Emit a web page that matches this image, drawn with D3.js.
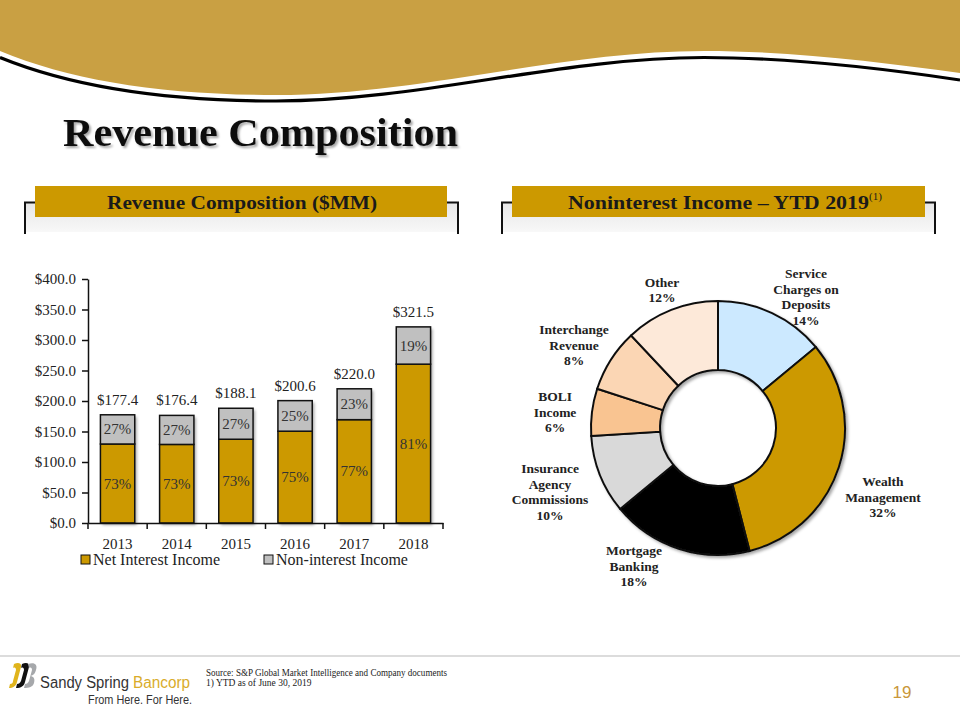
<!DOCTYPE html>
<html><head><meta charset="utf-8">
<script src="https://cdn.jsdelivr.net/npm/d3@7"></script>
<style>
body{margin:0;background:#fff;}
svg{display:block;font-family:"Liberation Serif","Times New Roman",serif;}
</style></head><body>
<svg id="c" width="960" height="720"></svg>
<script>
// ---------- DATA ----------
const years = ["2013","2014","2015","2016","2017","2018"];
const totalRevenue = [177.4, 176.4, 188.1, 200.6, 220.0, 321.5];
const netInterest = [129.5, 128.8, 137.3, 150.5, 169.4, 260.4];
const nonInterest = [47.9, 47.6, 50.8, 50.1, 50.6, 61.1];
const netPctLabels = ["73%","73%","73%","75%","77%","81%"];
const nonPctLabels = ["27%","27%","27%","25%","23%","19%"];
const yTicks = [0, 50, 100, 150, 200, 250, 300, 350, 400];
const seriesNames = ["Net Interest Income", "Non-interest Income"];

const donutCats = [["Service","Charges on","Deposits"],["Wealth","Management"],["Mortgage","Banking"],["Insurance","Agency","Commissions"],["BOLI","Income"],["Interchange","Revenue"],["Other"]];
const donutShares = [14, 32, 18, 10, 6, 8, 12];
const donutColors = ["#CCE9FF","#CC9900","#000000","#D9D9D9","#F9C491","#FBD6B4","#FDE9D9"];
// label block centres relative to donut centre (layout only)
const donutLabelOffsets = [[88,-131],[165,69],[-84,138],[-168,64],[-163,-16],[-144,-83],[-56,-138]];

const gold = "#CC9900", grey = "#C0C0C0", headerGold = "#C9A043";

const svg = d3.select("#c");
const defs = svg.append("defs");
const sh = defs.append("filter").attr("id","sh").attr("x","-20%").attr("y","-20%").attr("width","150%").attr("height","150%");
sh.append("feDropShadow").attr("dx",2).attr("dy",2).attr("stdDeviation",1.6).attr("flood-color","#000").attr("flood-opacity",0.35);
const tsh = defs.append("filter").attr("id","tsh").attr("x","-5%").attr("y","-20%").attr("width","110%").attr("height","150%");
tsh.append("feDropShadow").attr("dx",2).attr("dy",2).attr("stdDeviation",1).attr("flood-color","#000").attr("flood-opacity",0.35);
const grad = defs.append("linearGradient").attr("id","hg").attr("x1",0).attr("y1",0).attr("x2",0).attr("y2",1);
grad.append("stop").attr("offset","0%").attr("stop-color","#e6e6e6");
grad.append("stop").attr("offset","100%").attr("stop-color","#f8f8f8");

// ---------- HEADER WAVE ----------
svg.append("path")
  .attr("d","M0,57.5 C70,86 160,101 276,101 C420,101 560,57.5 704,57.5 C790,57.5 880,68 960,80")
  .attr("fill","none").attr("stroke","#000").attr("stroke-width",3.2);
svg.append("path")
  .attr("d","M0,0 H960 V73 C880,62 790,51 704,51 C560,51 420,95 276,95 C160,95 70,80 0,51 Z")
  .attr("fill",headerGold);

// ---------- TITLE ----------
svg.append("text").attr("x",63).attr("y",146).attr("font-size",40).attr("font-weight","bold")
  .attr("textLength",395).attr("lengthAdjust","spacingAndGlyphs")
  .attr("fill","#111").attr("filter","url(#tsh)").text("Revenue Composition");

// ---------- SECTION HEADERS ----------
function sectionHeader(x0, x1, bx0, bx1, label, textX, textLen, anchor){
  svg.append("rect").attr("x",x0).attr("y",202).attr("width",x1-x0).attr("height",30).attr("fill","url(#hg)");
  svg.append("path").attr("d",`M${x0},234 V202.5 H${bx0+2} M${bx1-2},202.5 H${x1} V234`)
    .attr("fill","none").attr("stroke","#111").attr("stroke-width",2);
  svg.append("rect").attr("x",bx0).attr("y",186).attr("width",bx1-bx0).attr("height",31).attr("fill",gold);
  return svg.append("text").attr("x",textX).attr("y",209).attr("font-size",19).attr("font-weight","bold")
    .attr("fill","#1a1a1a").attr("text-anchor",anchor).attr("textLength",textLen).attr("lengthAdjust","spacingAndGlyphs").text(label);
}
sectionHeader(25, 458, 35, 447, "Revenue Composition ($MM)", 242, 270, "middle");
sectionHeader(502, 935, 512, 925, "Noninterest Income \u2013  YTD 2019", 568, 301, "start");
svg.append("text").attr("x",869).attr("y",200).attr("font-size",11).attr("fill","#1a1a1a").text("(1)");

// ---------- BAR CHART ----------
const x = d3.scaleBand().domain(years).range([88,443]).paddingInner(0.42).paddingOuter(0.21);
const y = d3.scaleLinear().domain([0,400]).range([523,279]);
const bars = svg.append("g");
const rows = years.map((yr,i)=>({yr, net:netInterest[i], non:nonInterest[i], tot:totalRevenue[i], np:netPctLabels[i], op:nonPctLabels[i]}));

const bg = bars.selectAll("g.bar").data(rows).join("g").attr("class","bar");
bg.append("rect").attr("x",d=>x(d.yr)).attr("width",x.bandwidth())
  .attr("y",d=>y(d.net+d.non)).attr("height",d=>y(0)-y(d.net+d.non))
  .attr("fill","#fff").attr("filter","url(#sh)");
bg.append("rect").attr("x",d=>x(d.yr)).attr("width",x.bandwidth())
  .attr("y",d=>y(d.net)).attr("height",d=>y(0)-y(d.net))
  .attr("fill",gold).attr("stroke","#111").attr("stroke-width",1.5);
bg.append("rect").attr("x",d=>x(d.yr)).attr("width",x.bandwidth())
  .attr("y",d=>y(d.net+d.non)).attr("height",d=>y(d.net)-y(d.net+d.non))
  .attr("fill",grey).attr("stroke","#111").attr("stroke-width",1.5);
bg.append("text").attr("x",d=>x(d.yr)+x.bandwidth()/2).attr("y",d=>y(d.net/2)+5)
  .attr("text-anchor","middle").attr("font-size",15).attr("fill","#333").text(d=>d.np);
bg.append("text").attr("x",d=>x(d.yr)+x.bandwidth()/2).attr("y",d=>y(d.net+d.non/2)+5)
  .attr("text-anchor","middle").attr("font-size",15).attr("fill","#333").text(d=>d.op);
bg.append("text").attr("x",d=>x(d.yr)+x.bandwidth()/2).attr("y",d=>y(d.tot)-10)
  .attr("text-anchor","middle").attr("font-size",15).attr("fill","#222").text(d=>"$"+d.tot.toFixed(1));

// Y axis
const yAx = svg.append("g").attr("transform","translate(88,0)")
  .call(d3.axisLeft(y).tickValues(yTicks).tickSize(6).tickSizeOuter(0).tickPadding(6).tickFormat(d=>"$"+d.toFixed(1)));
yAx.selectAll("text").attr("font-size",15).attr("fill","#222").attr("font-family","Liberation Serif, serif");
yAx.selectAll("line,path").attr("stroke","#111").attr("stroke-width",1.5);
// X axis
const xAx = svg.append("g").attr("transform","translate(0,523)")
  .call(d3.axisBottom(x).tickSize(0).tickSizeOuter(0).tickPadding(15));
xAx.selectAll("text").attr("font-size",15).attr("fill","#222").attr("font-family","Liberation Serif, serif");
xAx.select("path").attr("stroke","#111").attr("stroke-width",1.5);
const step = x.step();
xAx.selectAll("line.bnd").data(d3.range(years.length+1)).join("line").attr("class","bnd")
  .attr("x1",i=>x.range()[0]+i*step).attr("x2",i=>x.range()[0]+i*step)
  .attr("y1",0).attr("y2",6).attr("stroke","#111").attr("stroke-width",1.5);

// Legend
const leg = svg.append("g");
const legX = [81, 264], legCol = [gold, grey];
seriesNames.forEach((n,i)=>{
  leg.append("rect").attr("x",legX[i]).attr("y",555).attr("width",9).attr("height",9)
    .attr("fill",legCol[i]).attr("stroke","#111").attr("stroke-width",1);
  leg.append("text").attr("x",legX[i]+12).attr("y",564.5).attr("font-size",16).attr("fill","#222").text(n);
});

// ---------- DONUT ----------
const cx = 718, cy = 428;
const pie = d3.pie().sort(null).value(d=>d)(donutShares);
const arc = d3.arc().innerRadius(58).outerRadius(127);
const dg = svg.append("g").attr("transform",`translate(${cx},${cy})`);
dg.append("g").attr("filter","url(#sh)").selectAll("path").data(pie).join("path")
  .attr("d",arc).attr("fill",(d,i)=>donutColors[i]).attr("stroke","#111").attr("stroke-width",2);
donutCats.forEach((lines,i)=>{
  const all = lines.concat([donutShares[i]+"%"]);
  const lh = 15.5;
  const [ox,oy] = donutLabelOffsets[i];
  const t = dg.append("text").attr("text-anchor","middle").attr("font-size",13.5).attr("font-weight","bold").attr("fill","#222");
  all.forEach((s,j)=>{
    t.append("tspan").attr("x",ox).attr("y",oy - (all.length-1)*lh/2 + j*lh + 4.5).text(s);
  });
});

// ---------- FOOTER ----------
svg.append("line").attr("x1",0).attr("x2",960).attr("y1",656).attr("y2",656).attr("stroke","#d0d0d0").attr("stroke-width",1.5);
const logo = svg.append("g");
logo.append("path").attr("d","M14,664 C18,662 22,663 21,667 L17,682 C16,686 13,688 9,688 L10,684 C12,684 13,683 13,681 L16,670 C16,668 15,667 13,668 Z").attr("fill","#E0B41C");
logo.append("path").attr("d","M22,664 C26,662 30,663 29,667 L25,682 C24,686 21,688 16,688 L17,684 C19,684 20,683 21,681 L24,670 C24,668 23,667 21,668 Z").attr("fill","#111");
logo.append("path").attr("d","M28,664 C34,662 38,664 36,670 C35,674 33,675 31,676 C34,677 35,679 34,683 C33,687 29,688 24,688 L25,684 C27,684 28,683 29,681 L32,670 C32,668 31,667 29,668 Z").attr("fill","#A6A8AB");
svg.append("text").attr("x",40).attr("y",688).attr("font-family","Liberation Sans, Arial, sans-serif").attr("font-size",16)
  .attr("fill","#333").attr("textLength",89).attr("lengthAdjust","spacingAndGlyphs").text("Sandy Spring");
svg.append("text").attr("x",133).attr("y",688).attr("font-family","Liberation Sans, Arial, sans-serif").attr("font-size",16)
  .attr("fill","#D9AC2A").attr("textLength",57).attr("lengthAdjust","spacingAndGlyphs").text("Bancorp");
svg.append("text").attr("x",88).attr("y",704).attr("font-family","Liberation Sans, Arial, sans-serif").attr("font-size",12).attr("fill","#333")
  .attr("textLength",104).attr("lengthAdjust","spacingAndGlyphs").text("From Here. For Here.");
svg.append("text").attr("x",206).attr("y",676).attr("font-size",9.5).attr("fill","#222").attr("textLength",241).attr("lengthAdjust","spacingAndGlyphs")
  .text("Source: S&P Global Market Intelligence and Company documents");
svg.append("text").attr("x",206).attr("y",685.5).attr("font-size",9.5).attr("fill","#222").text("1) YTD as of June 30, 2019");
svg.append("text").attr("x",902).attr("y",698).attr("text-anchor","middle").attr("font-family","Liberation Sans, Arial, sans-serif")
  .attr("font-size",17).attr("fill","#C9973A").text("19");
</script>
</body></html>
